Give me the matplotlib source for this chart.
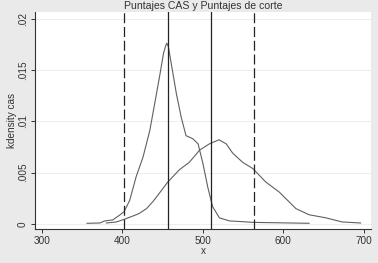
import matplotlib
matplotlib.use("Agg")
import matplotlib.pyplot as plt

plt.rcParams["font.family"] = ["Liberation Sans", "DejaVu Sans"]

# Curve 1: peaked density
x1 = [356, 372, 378, 388, 397, 402, 409, 417, 425.5, 434, 440, 446, 451, 453.5, 455, 457,
      460.7, 467, 473, 479, 487.5, 494, 500, 506, 512, 520.5, 533, 545, 562, 632]
y1 = [0.00007, 0.0001, 0.0003, 0.0004, 0.0009, 0.0012, 0.0023, 0.0046, 0.0065, 0.0091,
      0.0117, 0.0143, 0.0166, 0.0173, 0.0176, 0.0173, 0.0156, 0.0127, 0.0104, 0.0086,
      0.0083, 0.0078, 0.0059, 0.0036, 0.0017, 0.0006, 0.0003, 0.00025, 0.00016, 0.00007]

# Curve 2: broad density
x2 = [380, 392.5, 402, 417, 421, 430, 438, 442, 456.5, 471, 483, 496, 508, 520,
      529, 537, 549.5, 562, 578, 595, 615.6, 632, 653, 673, 696]
y2 = [0.0001, 0.0002, 0.00045, 0.0009, 0.00104, 0.0015, 0.0022, 0.0026, 0.0041, 0.0053,
      0.0060, 0.0072, 0.0078, 0.0082, 0.0078, 0.0069, 0.0060, 0.0054, 0.0041, 0.0031,
      0.0015, 0.0009, 0.0006, 0.0002, 0.0001]

solid_lines = [456.5, 510]
dashed_lines = [402, 563]

xticks = [300, 400, 500, 600, 700]
yticks = [0, 0.005, 0.01, 0.015, 0.02]
ytick_labels = ["0", ".005", ".01", ".015", ".02"]

bg = "#eaeaea"
fig = plt.figure(figsize=(3.78, 2.63), dpi=100, facecolor=bg)
ax = fig.add_axes([0.0926, 0.1293, 0.8884, 0.8247])
ax.set_facecolor("white")

for yv in yticks:
    ax.axhline(yv, color="#eeeeee", lw=0.8, zorder=0)

ax.plot(x1, y1, color="#606060", lw=0.8)
ax.plot(x2, y2, color="#606060", lw=0.8)
for xv in solid_lines:
    ax.axvline(xv, color="#222222", lw=0.9)
for xv in dashed_lines:
    ax.axvline(xv, color="#222222", lw=0.9, dashes=(8, 3))

ax.set_xlim(291.3, 708.7)
ax.set_ylim(-0.000485, 0.02063)
ax.set_xticks(xticks)
ax.set_xticklabels([str(v) for v in xticks])
ax.set_yticks(yticks)
ax.set_yticklabels(ytick_labels, rotation=90, va="center")

for s in ["top", "right"]:
    ax.spines[s].set_visible(False)
for s in ["left", "bottom"]:
    ax.spines[s].set_color("#333333")
    ax.spines[s].set_linewidth(0.8)
ax.tick_params(axis="both", labelsize=7.2, length=3, width=0.7, color="#333333",
               labelcolor="#333333", pad=2)

ax.set_xlabel("x", fontsize=7.2, color="#333333", labelpad=0)
ax.set_ylabel("kdensity cas", fontsize=7.2, color="#333333", labelpad=1)
fig.text(0.537, 0.978, "Puntajes CAS y Puntajes de corte", ha="center", va="center",
         fontsize=7.6, color="#333333")

fig.savefig("out.png", dpi=100, facecolor=bg)
